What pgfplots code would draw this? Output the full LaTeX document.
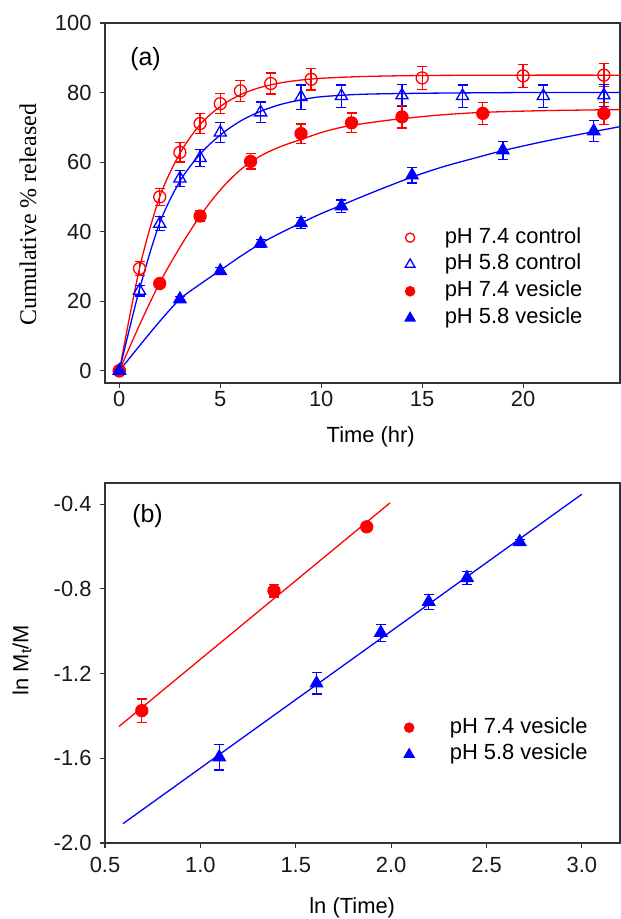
\documentclass[border=0pt]{standalone}
\usepackage{fontspec}
\setmainfont{Liberation Sans}
\newfontfamily\seriffont{Liberation Serif}
\usepackage{pgfplots}
\pgfplotsset{compat=1.18}
\definecolor{pred}{RGB}{255,0,0}
\definecolor{pblue}{RGB}{0,0,255}
\begin{document}
\begin{tikzpicture}
\path[use as bounding box] (0,0) rectangle (621bp,919bp);
\pgfplotsset{
 myax/.style={
  scale only axis, width=515bp, height=360bp, anchor=south west,
  axis line style={line width=1.3bp, black!80},
  tick pos=left,
  major tick length=5bp,
  xtick style={draw=black!80, line width=1.1bp},
  ytick style={draw=black!80, line width=1.1bp},
  tick label style={font=\fontsize{22}{26}\selectfont, black!90},
  yticklabel style={xshift=-5bp},
  /pgf/number format/assume math mode=true,
  label style={font=\fontsize{22}{26}\selectfont},
  legend cell align=left,
  legend style={draw=none, fill=none, font=\fontsize{22}{26}\selectfont,
    nodes={inner sep=0pt, text height=16bp, text depth=5bp},
    row sep=5.8bp, column sep=0pt, anchor=north west},
  error bars/error bar style={line width=1.3bp},
  error bars/error mark options={rotate=90, line width=1.3bp, mark size=5bp},
  clip=false,
 },
 curve/.style={line width=1.3bp, smooth, no markers, forget plot},
 pts/.style={only marks, line width=1.3bp, error bars/y dir=both, error bars/y explicit},
}
% ---------------- panel (a)
\begin{axis}[myax, at={(105bp,536bp)}, tick align=outside,
  xmin=-0.71, xmax=24.8, ymin=-3.5, ymax=100,
  xtick={0,5,10,15,20}, ytick={0,20,40,60,80,100},
  xlabel={Time (hr)},
  xlabel style={at={(axis description cs:0.516,0)}, anchor=center, yshift=-54bp},
  ylabel={\seriffont\fontsize{24}{28}\selectfont Cumulative \% released},
  ylabel style={at={(axis description cs:0,0.467)}, anchor=center, yshift=77bp},
  legend style={at={(rel axis cs:0.5714,0.4389)}},
  legend image code/.code={\path (-7bp,0bp) (34bp,0bp); \draw[#1] plot coordinates {(0bp,0bp)};},
]
% fitted curves
\addplot[curve, pred] coordinates {(0,0) (1,29.5) (2,50) (3,62.5) (4,70.8) (5,76) (6,79.4) (7,81.5) (8,82.8) (9,83.6) (10,84.1) (12,84.6) (15,84.9) (20,85) (24.8,85)};
\addplot[curve, pblue] coordinates {(0,0) (1,23.5) (2,42.5) (3,54.5) (4,62.3) (5,67.8) (6,71.8) (7,74.6) (8,76.6) (9,77.9) (10,78.8) (12,79.5) (15,79.8) (20,80) (24.8,80)};
\addplot[curve, pred] coordinates {(0,0) (1,13.2) (2,25.3) (3,35.5) (4,44.5) (5,52) (6,57.8) (7,61.8) (8,64.5) (9,66.5) (10,68.5) (11,70) (12,71) (13,71.8) (14,72.5) (16,73.6) (18,74.3) (21,74.8) (24.8,75.1)};
\addplot[curve, pblue] coordinates {(0,0) (1,7.2) (2,14.2) (3,20.6) (4,24.9) (5,28.9) (6,32.9) (7,36.6) (8,39.7) (9,42.5) (10,45.2) (11,47.6) (12.5,51.2) (14.5,55.7) (16,58.6) (17.5,61.0) (19,63.3) (21,65.9) (23,68.2) (24.8,70.2)};
% data
\addplot[pts, pred, mark=o, mark size=6bp, legend image post style={mark size=4.6bp}] coordinates {
 (0,0) +- (0,0) (1,29.4) +- (0,2.0) (2,50.0) +- (0,2.5) (3,62.8) +- (0,2.8) (4,71.1) +- (0,2.9)
 (5,76.8) +- (0,2.9) (6,80.5) +- (0,3.0) (7.5,82.6) +- (0,3.0) (9.5,83.8) +- (0,3.1)
 (15,84.2) +- (0,3.3) (20,84.8) +- (0,3.3) (24,85.0) +- (0,3.3)};
\addlegendentry{pH 7.4 control}
\addplot[pts, pblue, mark=triangle, mark size=7bp, legend image post style={mark size=5.6bp}] coordinates {
 (0,0) +- (0,0) (1,23.0) +- (0,1.5) (2,42.3) +- (0,2.0) (3,55.3) +- (0,2.3) (4,61.2) +- (0,2.5)
 (5,68.5) +- (0,2.9) (7,74.3) +- (0,3.0) (9,78.7) +- (0,3.5) (11,79.0) +- (0,3.2)
 (14,79.2) +- (0,3.2) (17,79.0) +- (0,3.2) (21,79.0) +- (0,3.2) (24,79.2) +- (0,3.2)};
\addlegendentry{pH 5.8 control}
\addplot[pts, pred, mark=*, mark size=6bp, mark options={fill=pred}, legend image post style={mark size=4.6bp}] coordinates {
 (0,0) +- (0,0) (2,25.1) +- (0,1.0) (4,44.5) +- (0,1.5) (6.5,60.2) +- (0,2.2) (9,68.2) +- (0,2.8)
 (11.5,71.3) +- (0,2.8) (14,73.0) +- (0,3.2) (18,74.0) +- (0,3.2) (24,74.0) +- (0,3.2)};
\addlegendentry{pH 7.4 vesicle}
\addplot[pts, pblue, mark=triangle*, mark size=7bp, mark options={fill=pblue}, legend image post style={mark size=5.6bp}] coordinates {
 (0,0) +- (0,0) (3,20.6) +- (0,0.8) (5,28.7) +- (0,1.0) (7,36.6) +- (0,1.2) (9,42.5) +- (0,1.5)
 (11,47.3) +- (0,1.8) (14.5,56.2) +- (0,2.2) (19,63.4) +- (0,2.6) (23.5,68.9) +- (0,3.0)};
\addlegendentry{pH 5.8 vesicle}
\node[font=\fontsize{25}{30}\selectfont] at (rel axis cs:0.0786,0.9) {(a)};
\end{axis}
% ---------------- panel (b)
\begin{axis}[myax, at={(105bp,76bp)}, tick align=outside,
  xticklabel style={yshift=-6bp},
  xmin=0.5, xmax=3.2, ymin=-2.0, ymax=-0.3,
  xtick={0.5,1.0,1.5,2.0,2.5,3.0}, ytick={-2.0,-1.6,-1.2,-0.8,-0.4},
  /pgf/number format/.cd, fixed, fixed zerofill, precision=1, /pgfplots/.cd,
  xlabel={ln (Time)},
  xlabel style={at={(axis description cs:0.48,0)}, anchor=center, yshift=-65bp},
  ylabel={ln M\textsubscript{t}/M},
  ylabel style={at={(axis description cs:0,0.508)}, anchor=center, yshift=83bp},
  legend style={at={(rel axis cs:0.5696,0.3556)}},
  legend image code/.code={\path (-7bp,0bp) (40bp,0bp); \draw[#1] plot coordinates {(0bp,0bp)};},
]
\addplot[curve, pred] coordinates {(0.573,-1.45) (1.994,-0.394)};
\addplot[curve, pblue] coordinates {(0.594,-1.909) (3.0,-0.353)};
\addplot[pts, pred, mark=*, mark size=6bp, mark options={fill=pred}, legend image post style={mark size=4.6bp}] coordinates {
 (0.693,-1.375) +- (0,0.055) (1.386,-0.809) +- (0,0.03) (1.872,-0.507) +- (0,0.015)};
\addlegendentry{pH 7.4 vesicle}
\addplot[pts, pblue, mark=triangle*, mark size=7bp, mark options={fill=pblue}, legend image post style={mark size=5.6bp}] coordinates {
 (1.099,-1.595) +- (0,0.06) (1.609,-1.246) +- (0,0.05) (1.946,-1.007) +- (0,0.04)
 (2.197,-0.861) +- (0,0.035) (2.398,-0.748) +- (0,0.03) (2.674,-0.578) +- (0,0.012)};
\addlegendentry{pH 5.8 vesicle}
\node[font=\fontsize{25}{30}\selectfont] at (rel axis cs:0.0825,0.908) {(b)};
\end{axis}
\end{tikzpicture}
\end{document}
